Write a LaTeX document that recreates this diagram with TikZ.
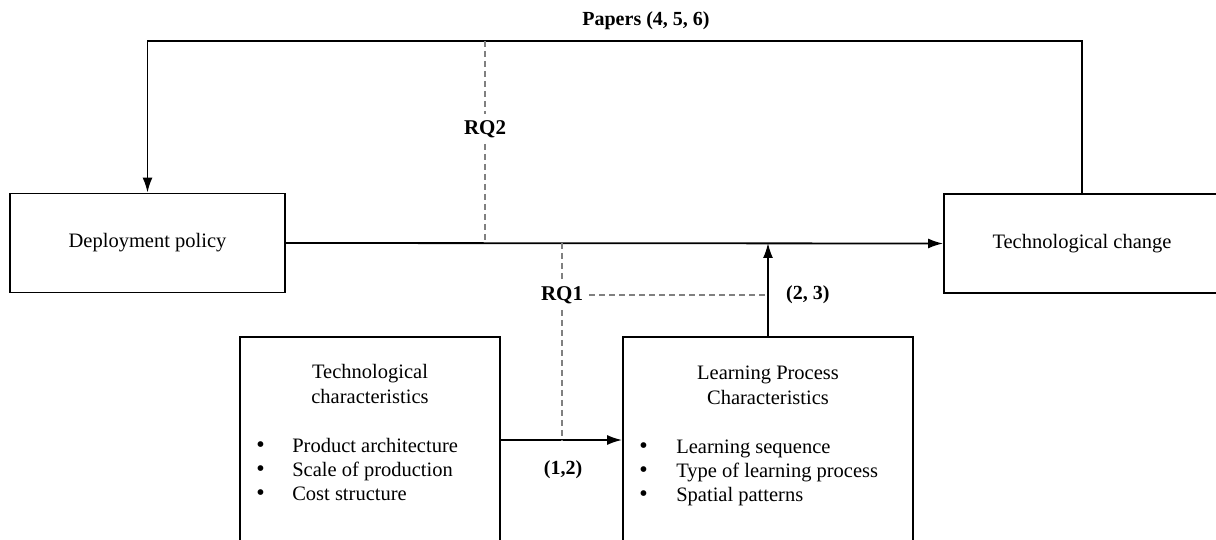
\documentclass[tikz,border=0pt]{standalone}
\usepackage{fontspec}
\setmainfont{Liberation Serif}
\usepackage{color}
\definecolor{rqgray}{RGB}{128,128,128}
\usepackage{tikz}
\usetikzlibrary{calc,arrows.meta,positioning}
\tikzstyle{block}=[draw,rectangle,line width=1.8pt,inner sep=0pt]
\tikzstyle{flow}=[line width=1.8pt,-{Latex[length=15pt,width=10pt]}]
\tikzstyle{rqline}=[draw=rqgray,line width=1.5pt,dash pattern=on 6pt off 4pt]
\tikzstyle{paper}=[font=\fontsize{20}{25}\selectfont\bfseries,inner sep=2pt]
\tikzstyle{rq}=[font=\fontsize{21}{25}\selectfont\bfseries,inner sep=6pt]
\tikzstyle{headline}=[align=center,inner sep=0pt]
\tikzstyle{itemlist}=[inner sep=0pt]
\newcommand{\bul}{{\fontsize{24}{24}\selectfont\textbullet}}

\begin{document}
\begin{tikzpicture}[x=1pt,y=-1pt,font=\fontsize{20.5}{25}\selectfont]
\clip (0,0) rectangle (1216,540);
\node [block, minimum width=275pt, minimum height=99pt] (dep) at (147.5,243) {Deployment policy};
\node [block, minimum width=276pt, minimum height=99pt] (change) at (1082,243.5) {Technological change};
\node [block, minimum width=260pt, minimum height=206pt] (tchar) at (370,440) {};
\node [block, minimum width=290pt, minimum height=206pt] (lpc) at (768,440) {};

\node [headline] (tchartitle) at ([yshift=-48pt]tchar.north) {Technological\\characteristics};
\node [itemlist, anchor=west] (tcharlist) at ([xshift=17pt,yshift=-32pt]tchar.west) {\fontsize{20.5}{24}\selectfont
\begin{tabular}{@{}p{36pt}@{}l@{}}
\bul & Product architecture\\
\bul & Scale of production\\
\bul & Cost structure
\end{tabular}};
\node [headline] (lpctitle) at ([yshift=-49pt]lpc.north) {Learning Process\\Characteristics};
\node [itemlist, anchor=west] (lpclist) at ([xshift=17pt,yshift=-32.5pt]lpc.west) {\fontsize{20.5}{24}\selectfont
\begin{tabular}{@{}p{37pt}@{}l@{}}
\bul & Learning sequence\\
\bul & Type of learning process\\
\bul & Spatial patterns
\end{tabular}};

\coordinate (fbtop) at (1082,41);
\node [paper] (papers) at (646,21) {Papers (4, 5, 6)};
\draw [flow] (change.north) |- (dep.north |- fbtop) -- (dep.north);
\draw [flow] (dep.east) -- (change.west);
\draw [flow] (lpc.north) -- (lpc.north |- dep.east);
\draw [flow] (tchar.east) -- (lpc.west);

\node [rq] (rq2) at (485,129) {RQ2};
\node [rq] (rq1) at (562,295) {RQ1};
\node [paper] (p12) at (563,470) {(1,2)};
\node [paper, anchor=west] (p23) at (784,295) {(2, 3)};
\draw [rqline] (rq2 |- fbtop) -- (rq2.north);
\draw [rqline] (rq2.south) -- (rq2 |- dep.east);
\draw [rqline] (rq1 |- dep.east) -- (rq1.north);
\draw [rqline] (rq1.south) -- (rq1 |- tchar.east);
\draw [rqline] (rq1.east) -- (lpc.north |- rq1.east);
\end{tikzpicture}
\end{document}
